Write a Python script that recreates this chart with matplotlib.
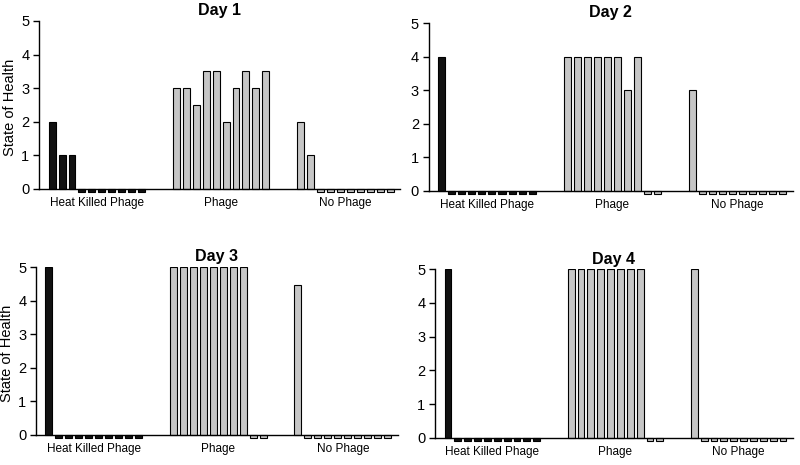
import matplotlib
matplotlib.use("Agg")
import matplotlib.pyplot as plt

plt.rcParams['font.family'] = ['Liberation Sans', 'DejaVu Sans']

groups = ["Heat Killed Phage", "Phage", "No Phage"]
days = ["Day 1", "Day 2", "Day 3", "Day 4"]

heat_killed = {
    "Day 1": [2, 1, 1, -0.08, -0.08, -0.08, -0.08, -0.08, -0.08, -0.08],
    "Day 2": [4, -0.08, -0.08, -0.08, -0.08, -0.08, -0.08, -0.08, -0.08, -0.08],
    "Day 3": [5, -0.08, -0.08, -0.08, -0.08, -0.08, -0.08, -0.08, -0.08, -0.08],
    "Day 4": [5, -0.08, -0.08, -0.08, -0.08, -0.08, -0.08, -0.08, -0.08, -0.08],
}
phage = {
    "Day 1": [3, 3, 2.5, 3.5, 3.5, 2, 3, 3.5, 3, 3.5],
    "Day 2": [4, 4, 4, 4, 4, 4, 3, 4, -0.08, -0.08],
    "Day 3": [5, 5, 5, 5, 5, 5, 5, 5, -0.08, -0.08],
    "Day 4": [5, 5, 5, 5, 5, 5, 5, 5, -0.08, -0.08],
}
no_phage = {
    "Day 1": [2, 1, -0.08, -0.08, -0.08, -0.08, -0.08, -0.08, -0.08, -0.08],
    "Day 2": [3, -0.08, -0.08, -0.08, -0.08, -0.08, -0.08, -0.08, -0.08, -0.08],
    "Day 3": [4.45, -0.08, -0.08, -0.08, -0.08, -0.08, -0.08, -0.08, -0.08, -0.08],
    "Day 4": [5, -0.08, -0.08, -0.08, -0.08, -0.08, -0.08, -0.08, -0.08, -0.08],
}
yticks = [0, 1, 2, 3, 4, 5]

group_offset = 12.5
bar_w = 0.7
black = "#111111"
grey = "#c6c6c6"

fig = plt.figure(figsize=(8, 4.65), dpi=100)
positions = {
    "Day 1": [0.049, 0.583, 0.451, 0.372],
    "Day 2": [0.536, 0.5785, 0.455, 0.372],
    "Day 3": [0.045, 0.0538, 0.452, 0.372],
    "Day 4": [0.544, 0.0473, 0.447, 0.374],
}

for day in days:
    ax = fig.add_axes(positions[day])
    series = [heat_killed[day], phage[day], no_phage[day]]
    colors = [black, grey, grey]
    for g, (vals, col) in enumerate(zip(series, colors)):
        xs = [g * group_offset + i for i in range(len(vals))]
        ax.bar(xs, vals, width=bar_w, color=col, edgecolor="black",
               linewidth=0.8, zorder=2)
        ax.text(g * group_offset + 4.5, -0.25, groups[g], ha="center",
                va="top", fontsize=8.5, transform=ax.transData)
    ax.set_xlim(-1.3, 35)
    ax.set_ylim(-0.15, 5)
    ax.set_yticks(yticks)
    ax.set_yticklabels([str(t) for t in yticks], fontsize=10.5)
    ax.set_xticks([])
    for s in ["top", "right"]:
        ax.spines[s].set_visible(False)
    ax.spines["bottom"].set_position(("data", 0))
    ax.spines["left"].set_bounds(0, 5)
    ax.spines["left"].set_linewidth(1.0)
    ax.spines["bottom"].set_linewidth(1.0)
    ax.tick_params(axis="y", length=4, width=1, direction="out", pad=3)
    ax.set_title(day, fontsize=11.5, fontweight="bold", pad=4)
    if day in ("Day 1", "Day 3"):
        ax.set_ylabel("State of Health", fontsize=10.5, labelpad=3)

fig.savefig("out.png", dpi=100)
